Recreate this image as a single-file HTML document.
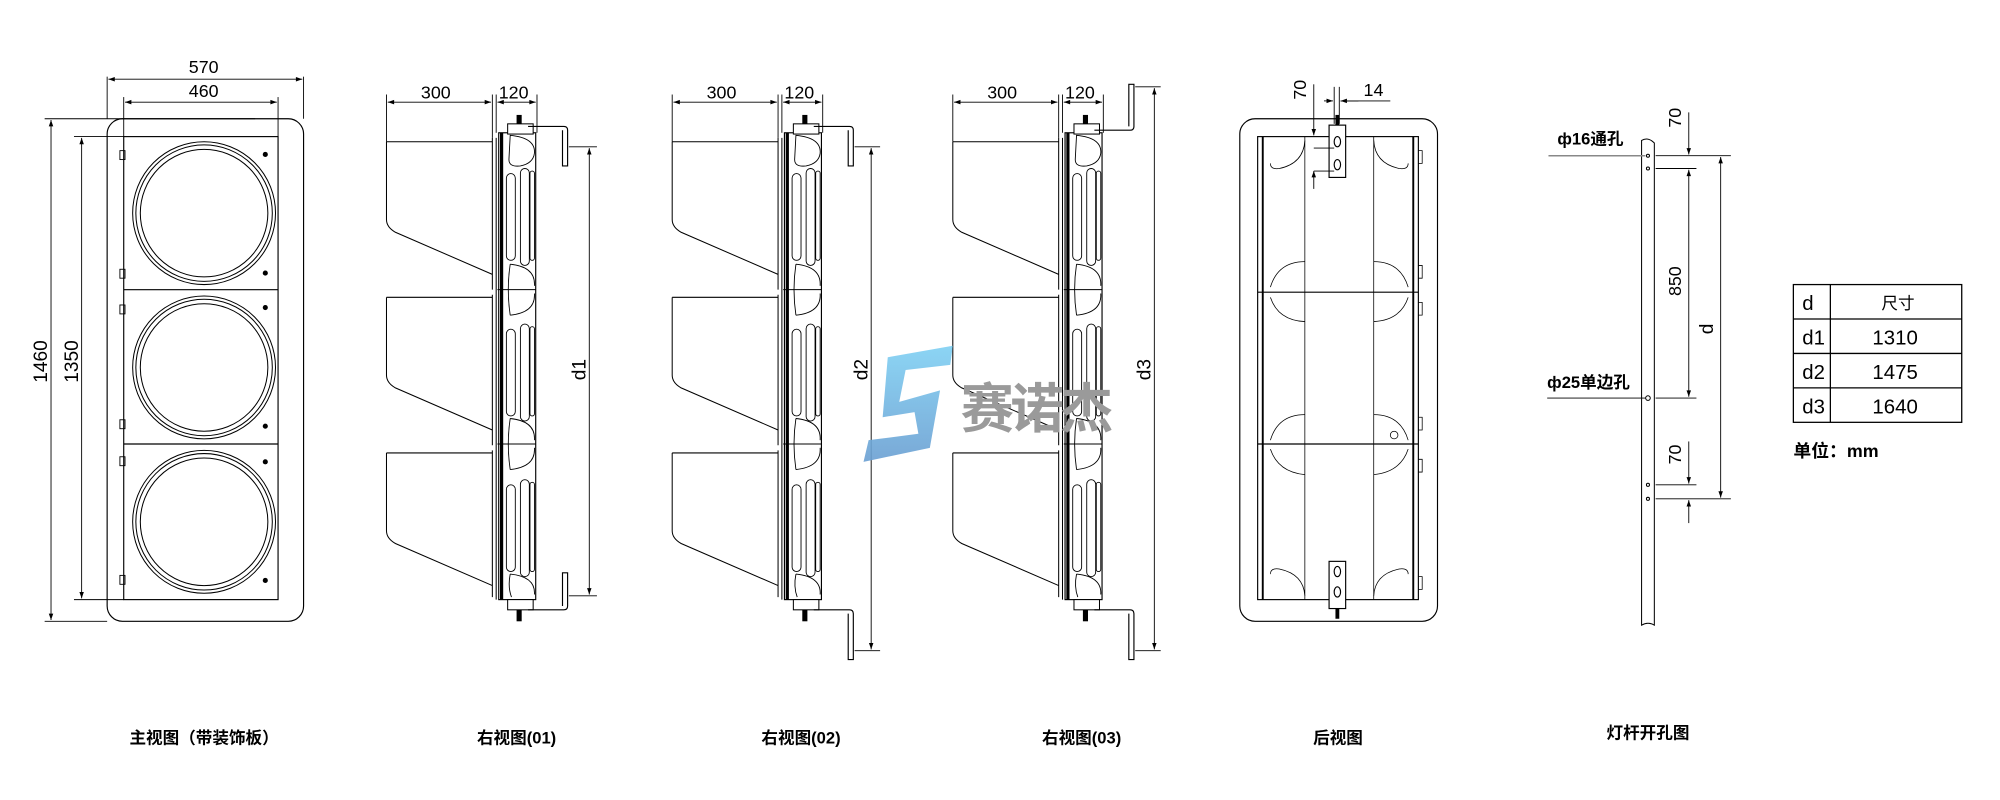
<!DOCTYPE html>
<html><head><meta charset="utf-8"><style>
html,body{margin:0;padding:0;background:#fff;}
svg{display:block;}
text{font-family:"Liberation Sans","Noto Sans CJK SC",sans-serif;fill:#000;}
</style></head><body>
<svg width="2000" height="800" viewBox="0 0 1568 627" xmlns="http://www.w3.org/2000/svg">
<defs>
<marker id="a" viewBox="0 0 10 10" refX="10" refY="5" markerWidth="7" markerHeight="5" orient="auto-start-reverse" markerUnits="userSpaceOnUse"><path d="M0,1.5 L10,5 L0,8.5z" fill="#000"/></marker>
<linearGradient id="lg" x1="0" y1="0" x2="0" y2="1"><stop offset="0" stop-color="#7fd0f3"/><stop offset="1" stop-color="#6a9fd2"/></linearGradient>
<g id="side">
  <!-- shades -->
  <g fill="none" stroke="#000" stroke-width="0.8">
    <path d="M303,111 H386 M303,111 V172 Q303,178 310,182 L386,215"/>
    <path d="M303,233 H386 M303,233 V294 Q303,300 310,304 L386,337"/>
    <path d="M303,355 H386 M303,355 V416 Q303,422 310,426 L386,459"/>
    <path d="M386,108 V227 M389,108 V470 M386,231 V349 M386,353 V468"/>
  </g>
  <!-- housing -->
  <rect x="391" y="104" width="29" height="366" fill="none" stroke="#000" stroke-width="0.9"/>
  <rect x="392" y="104" width="2.5" height="366" fill="#000"/>
  <line x1="390" y1="227" x2="420" y2="227" stroke="#000" stroke-width="0.8"/>
  <line x1="390" y1="348" x2="420" y2="348" stroke="#000" stroke-width="0.8"/>
  <g fill="none" stroke="#000" stroke-width="0.7">
    <rect x="397" y="136" width="7" height="68" rx="3.5"/><rect x="408" y="132" width="7" height="76" rx="3.5"/><rect x="415.5" y="134" width="3.5" height="70" rx="1.7"/>
    <rect x="397" y="258" width="7" height="68" rx="3.5"/><rect x="408" y="254" width="7" height="76" rx="3.5"/><rect x="415.5" y="256" width="3.5" height="70" rx="1.7"/>
    <rect x="397" y="380" width="7" height="68" rx="3.5"/><rect x="408" y="376" width="7" height="76" rx="3.5"/><rect x="415.5" y="378" width="3.5" height="70" rx="1.7"/>
    <path d="M400,106 Q420,108 419,120 Q418,128 408,130 Q399,131 399,125 Z"/>
    <path d="M400,207 Q420,209 419,224 M400,247 Q420,245 419,230 M400,207 Q397,227 400,247"/>
    <path d="M400,328 Q420,330 419,345 M400,368 Q420,366 419,351 M400,328 Q397,348 400,368"/>
    <path d="M400,450 Q420,452 419,466 M400,450 Q398,460 401,468"/>
  </g>
  <!-- caps -->
  <rect x="398" y="97" width="20" height="8" fill="#fff" stroke="#000" stroke-width="0.8"/>
  <rect x="405" y="90" width="4" height="7" fill="#000"/>
  <rect x="398" y="470" width="20" height="8" fill="#fff" stroke="#000" stroke-width="0.8"/>
  <rect x="405" y="478" width="4" height="9" fill="#000"/>
  <!-- dims -->
  <g stroke="#000" stroke-width="0.7" fill="none">
    <line x1="303" y1="74" x2="303" y2="111"/><line x1="386" y1="74" x2="386" y2="108"/><line x1="389" y1="74" x2="389" y2="104"/><line x1="421" y1="74" x2="421" y2="104"/>
    <line x1="304" y1="80" x2="385" y2="80" marker-start="url(#a)" marker-end="url(#a)"/>
    <line x1="390" y1="80" x2="420" y2="80" marker-start="url(#a)" marker-end="url(#a)"/>
  </g>
  <text x="330" y="77" font-size="14">300</text>
  <text x="391" y="77" font-size="14">120</text>
</g>
</defs>

<!-- MAIN VIEW -->
<g fill="none" stroke="#000" stroke-width="0.9">
  <rect x="84" y="93" width="154" height="394" rx="12"/>
  <rect x="97" y="107" width="121" height="363"/>
  <line x1="97" y1="227" x2="218" y2="227"/><line x1="97" y1="348" x2="218" y2="348"/>
  <g stroke-width="0.8">
    <circle cx="160" cy="167" r="56"/><circle cx="160" cy="167" r="53.5"/><circle cx="160" cy="167" r="50"/>
    <circle cx="160" cy="288" r="56"/><circle cx="160" cy="288" r="53.5"/><circle cx="160" cy="288" r="50"/>
    <circle cx="160" cy="409" r="56"/><circle cx="160" cy="409" r="53.5"/><circle cx="160" cy="409" r="50"/>
  </g>
  <g stroke-width="0.7">
    <rect x="94" y="118" width="4" height="7"/><rect x="94" y="211" width="4" height="7"/>
    <rect x="94" y="239" width="4" height="7"/><rect x="94" y="329" width="4" height="7"/>
    <rect x="94" y="358" width="4" height="7"/><rect x="94" y="451" width="4" height="7"/>
  </g>
  <g stroke-width="0.7">
    <line x1="84" y1="60" x2="84" y2="93"/><line x1="238" y1="60" x2="238" y2="93"/>
    <line x1="97" y1="76" x2="97" y2="107"/><line x1="218" y1="76" x2="218" y2="107"/>
    <line x1="85" y1="62" x2="237" y2="62" marker-start="url(#a)" marker-end="url(#a)"/>
    <line x1="98" y1="80" x2="217" y2="80" marker-start="url(#a)" marker-end="url(#a)"/>
    <line x1="35" y1="93" x2="200" y2="93"/><line x1="35" y1="487" x2="84" y2="487"/>
    <line x1="58" y1="107" x2="97" y2="107"/><line x1="58" y1="470" x2="97" y2="470"/>
    <line x1="40" y1="94" x2="40" y2="486" marker-start="url(#a)" marker-end="url(#a)"/>
    <line x1="64" y1="108" x2="64" y2="469" marker-start="url(#a)" marker-end="url(#a)"/>
  </g>
</g>
<g fill="#000"><circle cx="208" cy="121" r="2"/><circle cx="208" cy="214" r="2"/><circle cx="208" cy="241" r="2"/><circle cx="208" cy="334" r="2"/><circle cx="208" cy="362" r="2"/><circle cx="208" cy="455" r="2"/></g>
<text x="148" y="57" font-size="14">570</text>
<text x="148" y="76" font-size="14">460</text>
<text transform="translate(37,300) rotate(-90)" font-size="15">1460</text>
<text transform="translate(61,300) rotate(-90)" font-size="15">1350</text>

<!-- SIDE VIEWS -->
<use href="#side"/>
<use href="#side" transform="translate(224,0)"/>
<use href="#side" transform="translate(444,0)"/>
<g fill="none" stroke="#000" stroke-width="0.9">
  <!-- v1 brackets -->
  <path d="M414,99 H442 Q445,99 445,102 V130 H441 V102"/>
  <path d="M414,478 H442 Q445,478 445,475 V449 H441 V475"/>
  <!-- v2 -->
  <path d="M638,99 H666 Q669,99 669,102 V130 H665 V102"/>
  <path d="M638,478 H666 Q669,478 669,481 V517 H665 V481"/>
  <!-- v3 -->
  <path d="M858,102 H886 Q889,102 889,99 V66 H885 V99"/>
  <path d="M858,478 H886 Q889,478 889,481 V517 H885 V481"/>
  <g stroke-width="0.7">
    <line x1="446" y1="115" x2="468" y2="115"/><line x1="446" y1="467" x2="468" y2="467"/>
    <line x1="462" y1="116" x2="462" y2="466" marker-start="url(#a)" marker-end="url(#a)"/>
    <line x1="670" y1="115" x2="690" y2="115"/><line x1="670" y1="510" x2="690" y2="510"/>
    <line x1="683" y1="116" x2="683" y2="509" marker-start="url(#a)" marker-end="url(#a)"/>
    <line x1="890" y1="68" x2="910" y2="68"/><line x1="890" y1="510" x2="910" y2="510"/>
    <line x1="905" y1="69" x2="905" y2="509" marker-start="url(#a)" marker-end="url(#a)"/>
  </g>
</g>
<text transform="translate(459,298) rotate(-90)" font-size="15">d1</text>
<text transform="translate(680,298) rotate(-90)" font-size="15">d2</text>
<text transform="translate(902,298) rotate(-90)" font-size="15">d3</text>

<!-- LOGO -->
<polygon points="696,280 747,271 745,286 710,290 705,315 737,306 729,351 677,362 681,345 720,340 717,323 692,327" fill="url(#lg)" opacity="0.9"/>
<text x="753" y="335" font-size="42" font-weight="bold" style="fill:#9a9a9a" letter-spacing="-3">赛诺杰</text>

<!-- BACK VIEW -->
<g fill="none" stroke="#000" stroke-width="0.9">
  <rect x="972" y="93" width="155" height="394" rx="12"/>
  <rect x="986" y="107" width="126" height="363"/>
  <line x1="986" y1="229" x2="1112" y2="229"/><line x1="986" y1="348" x2="1112" y2="348"/>
  <line x1="990" y1="107" x2="990" y2="470" stroke-width="1.5"/>
  <line x1="1108" y1="107" x2="1108" y2="470" stroke-width="1.5"/>
  <g stroke-width="0.6">
    <line x1="1023" y1="107" x2="1023" y2="470"/><line x1="1077" y1="107" x2="1077" y2="470"/>
    <path d="M1023,110 Q1022,128 1003,132 Q996,133 996,128"/><path d="M1077,110 Q1078,128 1097,132 Q1104,133 1104,128"/>
    <path d="M1023,205 Q1002,205 996,225 M996,233 Q1002,251 1023,252"/><path d="M1077,205 Q1098,205 1104,225 M1104,233 Q1098,251 1077,252"/>
    <path d="M1023,325 Q1002,325 996,345 M996,352 Q1002,370 1023,372"/><path d="M1077,325 Q1098,325 1104,345 M1104,352 Q1098,370 1077,372"/>
    <path d="M1023,467 Q1022,450 1003,446 Q996,445 996,450"/><path d="M1077,467 Q1078,450 1097,446 Q1104,445 1104,450"/>
    <circle cx="1093" cy="341" r="3"/>
  </g>
  <rect x="1042" y="98" width="13" height="41" fill="#fff"/>
  <ellipse cx="1048.5" cy="111" rx="2.5" ry="4"/><ellipse cx="1048.5" cy="129" rx="2.5" ry="4"/>
  <rect x="1042" y="440" width="13" height="37" fill="#fff"/>
  <ellipse cx="1048.5" cy="448" rx="2.5" ry="4"/><ellipse cx="1048.5" cy="464" rx="2.5" ry="4"/>
  <g stroke-width="0.7">
    <line x1="1030" y1="66" x2="1030" y2="106" marker-end="url(#a)"/>
    <line x1="1030" y1="148" x2="1030" y2="134" marker-end="url(#a)"/>
    <line x1="1030" y1="116" x2="1046" y2="116"/><line x1="1030" y1="134" x2="1046" y2="134"/>
    <line x1="1046" y1="68" x2="1046" y2="97"/><line x1="1050" y1="68" x2="1050" y2="97"/>
    <line x1="1038" y1="79" x2="1045" y2="79" marker-end="url(#a)"/>
    <line x1="1065" y1="79" x2="1051" y2="79" marker-end="url(#a)"/>
    <line x1="1051" y1="79" x2="1090" y2="79"/>
  </g>
  <g stroke-width="0.6">
    <path d="M1112,118 h3 v10 h-3 M1112,208 h3 v10 h-3 M1112,237 h3 v10 h-3 M1112,327 h3 v10 h-3 M1112,360 h3 v10 h-3 M1112,452 h3 v10 h-3"/>
  </g>
</g>
<rect x="1047" y="90" width="3" height="8" fill="#000"/><rect x="1047" y="477" width="3" height="8" fill="#000"/>
<text transform="translate(1024,78) rotate(-90)" font-size="14">70</text>
<text x="1069" y="75" font-size="14">14</text>

<!-- POLE -->
<g fill="none" stroke="#000" stroke-width="0.8">
  <path d="M1287,110 Q1292,107 1297,112 V490 Q1292,487 1287,490 Z"/>
  <circle cx="1292" cy="122" r="1.2"/><circle cx="1292" cy="132" r="1.2"/><circle cx="1292" cy="312" r="1.8"/>
  <circle cx="1292" cy="380" r="1.2"/><circle cx="1292" cy="391" r="1.2"/>
  <g stroke-width="0.7">
    <line x1="1298" y1="122" x2="1357" y2="122"/><line x1="1298" y1="132" x2="1330" y2="132"/>
    <line x1="1298" y1="312" x2="1330" y2="312"/><line x1="1298" y1="380" x2="1330" y2="380"/>
    <line x1="1298" y1="391" x2="1357" y2="391"/>
    <line x1="1324" y1="88" x2="1324" y2="121" marker-end="url(#a)"/>
    <line x1="1324" y1="133" x2="1324" y2="311" marker-start="url(#a)" marker-end="url(#a)"/>
    <line x1="1324" y1="346" x2="1324" y2="379" marker-end="url(#a)"/>
    <line x1="1324" y1="410" x2="1324" y2="392" marker-end="url(#a)"/>
    <line x1="1349" y1="123" x2="1349" y2="390" marker-start="url(#a)" marker-end="url(#a)"/>
    <line x1="1214" y1="122" x2="1290" y2="122" stroke="#888" stroke-width="1.2"/>
    <line x1="1213" y1="312" x2="1290" y2="312"/>
  </g>
</g>
<text x="1221" y="113" font-size="13" font-weight="bold">ф16通孔</text>
<text x="1213" y="304" font-size="13" font-weight="bold">ф25单边孔</text>
<text transform="translate(1318,100) rotate(-90)" font-size="14">70</text>
<text transform="translate(1318,232) rotate(-90)" font-size="14">850</text>
<text transform="translate(1343,262) rotate(-90)" font-size="15">d</text>
<text transform="translate(1318,364) rotate(-90)" font-size="14">70</text>

<!-- TABLE -->
<g fill="none" stroke="#000" stroke-width="1">
  <rect x="1406" y="223" width="132" height="108"/>
  <line x1="1435" y1="223" x2="1435" y2="331"/>
  <line x1="1406" y1="250" x2="1538" y2="250"/><line x1="1406" y1="277" x2="1538" y2="277"/><line x1="1406" y1="304" x2="1538" y2="304"/>
</g>
<g font-size="16">
<text x="1413" y="243">d</text><text x="1413" y="270">d1</text><text x="1413" y="297">d2</text><text x="1413" y="324">d3</text>
<text x="1475" y="242" font-size="13">尺寸</text>
<text x="1468" y="270">1310</text><text x="1468" y="297">1475</text><text x="1468" y="324">1640</text>
</g>
<text x="1406" y="358" font-size="14" font-weight="bold">单位：mm</text>

<!-- CAPTIONS -->
<g font-size="13" font-weight="bold" text-anchor="middle">
<text x="160" y="583">主视图（带装饰板）</text>
<text x="405" y="583">右视图(01)</text>
<text x="628" y="583">右视图(02)</text>
<text x="848" y="583">右视图(03)</text>
<text x="1049" y="583">后视图</text>
<text x="1292" y="579">灯杆开孔图</text>
</g>
</svg>
</body></html>
